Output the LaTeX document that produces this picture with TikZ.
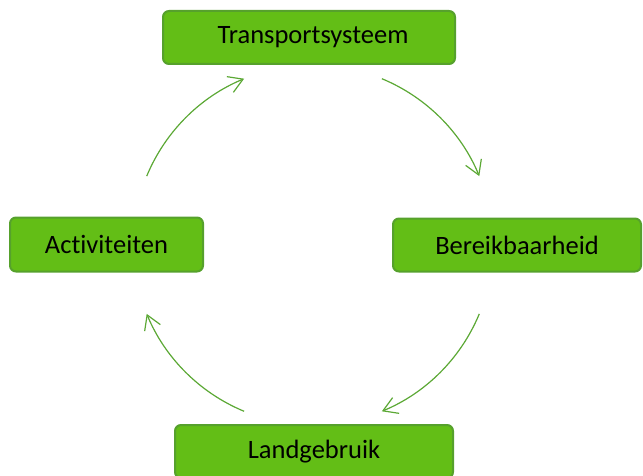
\documentclass[tikz,border=0pt]{standalone}
\usepackage{fontspec}
\setmainfont{Carlito}[Ligatures=NoCommon]
\usetikzlibrary{arrows.meta,calc}
\definecolor{boxfill}{HTML}{63BE16}
\definecolor{boxline}{HTML}{56A12C}
\definecolor{arrowgreen}{HTML}{5BA834}
\begin{document}
\begin{tikzpicture}[x=1pt,y=1pt,
  stage/.style={draw=boxline, fill=boxfill, line width=2pt, rounded corners=6pt,
    inner sep=0pt, font=\fontsize{26.5}{30}\selectfont, text=black},
  cycle/.style={draw=arrowgreen, line width=1.2pt,
    -{Straight Barb[length=14pt,width=17pt,line width=1.2pt]}}]
\useasboundingbox (0,0) rectangle (643,475);
\clip (0,0) rectangle (643,475);
% stage boxes (y measured upward from the bottom edge)
\node[stage, minimum width=292pt, minimum height=53pt] (trans) at (309,475-37.5) {\hspace{8pt}Transportsysteem};
\node[stage, minimum width=248pt, minimum height=53pt] (bereik) at (517,475-245) {Bereikbaarheid};
\node[stage, minimum width=278pt, minimum height=53pt] (land) at (314,475-451.5) {Landgebruik};
\node[stage, minimum width=193pt, minimum height=54pt] (activ) at (106.5,475-244.5) {Activiteiten};
% cycle arrows: arcs of one circle around (313,230)
\coordinate (ctr) at (313,230);
\coordinate (a1) at ($(ctr)+(67.5:180)$);
\coordinate (a2) at ($(ctr)+(-22.5:180)$);
\coordinate (a3) at ($(ctr)+(-112.5:180)$);
\coordinate (a4) at ($(ctr)+(157.5:180)$);
\draw[cycle] (a1) arc[start angle=67.5, end angle=22.5, radius=180];
\draw[cycle] (a2) arc[start angle=-22.5, end angle=-67.5, radius=180];
\draw[cycle] (a3) arc[start angle=-112.5, end angle=-157.5, radius=180];
\draw[cycle] (a4) arc[start angle=157.5, end angle=112.5, radius=180];
\end{tikzpicture}
\end{document}
